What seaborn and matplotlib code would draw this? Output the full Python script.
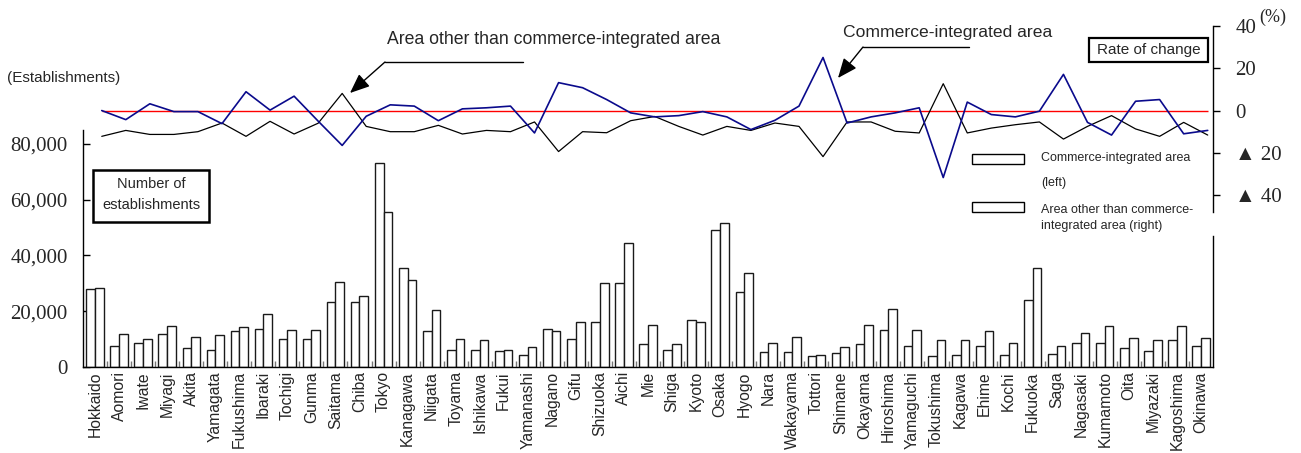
import numpy as np
import pandas as pd
import matplotlib
matplotlib.use("Agg")
import matplotlib.pyplot as plt
import seaborn as sns
from matplotlib.patches import Rectangle
from matplotlib.lines import Line2D

# ---- data -------------------------------------------------------------
prefectures = [
    "Hokkaido", "Aomori", "Iwate", "Miyagi", "Akita", "Yamagata", "Fukushima",
    "Ibaraki", "Tochigi", "Gunma", "Saitama", "Chiba", "Tokyo", "Kanagawa",
    "Niigata", "Toyama", "Ishikawa", "Fukui", "Yamanashi", "Nagano", "Gifu",
    "Shizuoka", "Aichi", "Mie", "Shiga", "Kyoto", "Osaka", "Hyogo", "Nara",
    "Wakayama", "Tottori", "Shimane", "Okayama", "Hiroshima", "Yamaguchi",
    "Tokushima", "Kagawa", "Ehime", "Kochi", "Fukuoka", "Saga", "Nagasaki",
    "Kumamoto", "Oita", "Miyazaki", "Kagoshima", "Okinawa",
]

# number of establishments
est_commerce = [
    27800, 7500, 8600, 11900, 6800, 6200, 12800, 13700, 10000, 10000,
    23300, 23300, 73100, 35500, 12800, 6200, 6200, 5700, 4300, 13700,
    10000, 16100, 30200, 8100, 6200, 17000, 49100, 26900, 5400, 5400,
    3800, 4900, 8100, 13300, 7600, 3800, 4300, 7600, 4300, 24100,
    4800, 8600, 8600, 6700, 5700, 9600, 7600,
]
est_other = [
    28300, 11900, 10000, 14800, 10900, 11500, 14300, 18900, 13300, 13300,
    30600, 25600, 55500, 31200, 20300, 10000, 9600, 6100, 7200, 12800,
    16100, 30200, 44300, 15200, 8100, 16100, 51500, 33600, 8600, 10900,
    4300, 7200, 15200, 20800, 13300, 9600, 9600, 12800, 8600, 35500,
    7600, 12300, 14700, 10500, 9600, 14700, 10500,
]

# rate of change (%)
chg_commerce = [
    0.0, -4.3, 3.2, -0.5, -0.5, -6.2, 8.9, 0.2, 6.8, -5.0,
    -16.5, -2.7, 2.7, 2.1, -4.8, 0.8, 1.3, 2.1, -10.6, 13.2,
    10.8, 5.2, -1.1, -3.0, -2.4, -0.5, -3.0, -9.0, -4.6, 2.1,
    25.1, -5.9, -3.0, -1.1, 1.3, -31.7, 4.0, -1.9, -3.0, -0.3,
    17.1, -5.6, -11.6, 4.4, 5.2, -11.0, -9.4,
]
chg_other = [
    -12.2, -9.4, -11.3, -11.3, -10.0, -5.9, -12.2, -5.1, -11.1, -6.0,
    8.1, -7.5, -10.0, -10.0, -7.0, -11.1, -9.4, -10.0, -5.4, -19.4,
    -10.0, -10.5, -4.8, -2.8, -7.5, -11.6, -7.5, -9.4, -5.9, -7.5,
    -21.8, -5.4, -5.4, -9.8, -10.6, 12.7, -10.6, -8.3, -6.7, -5.4,
    -13.5, -7.5, -2.4, -8.7, -12.2, -5.6, -11.6,
]

left_ticks = [0, 20000, 40000, 60000, 80000]
left_tick_labels = ["0", "20,000", "40,000", "60,000", "80,000"]
right_ticks = [-40, -20, 0, 20, 40]
right_tick_labels = ["▲ 40", "▲ 20", "0", "20", "40"]

series_left = "Commerce-integrated area (left)"
series_right = "Area other than commerce-integrated area (right)"

# ---- style ------------------------------------------------------------
sns.set_style("white")
plt.rcParams["font.family"] = ["Liberation Sans", "DejaVu Sans"]
SERIF = ["Liberation Serif", "DejaVu Sans"]

W, H = 1301, 453
fig = plt.figure(figsize=(W / 100, H / 100), dpi=100)


def fx(x):
    return x / W


def fy(y):
    return 1 - y / H


# ---- bars: number of establishments ------------------------------------
ax = fig.add_axes([fx(83), fy(367), fx(1213) - fx(83), fy(130) - fy(367)])
df = pd.DataFrame({
    "Prefecture": prefectures * 2,
    "Establishments": est_commerce + est_other,
    "Area": [series_left] * len(prefectures) + [series_right] * len(prefectures),
})
sns.barplot(data=df, x="Prefecture", y="Establishments", hue="Area",
            order=prefectures, hue_order=[series_left, series_right],
            palette=["white", "white"], edgecolor="#1a1a1a", linewidth=1.0,
            width=0.72, ax=ax, legend=False)
ax.set_xlim(-0.5, len(prefectures) - 0.5)
ax.set_ylim(0, 85000)
ax.set_xlabel("")
ax.set_ylabel("")
ax.set_yticks(left_ticks)
ax.set_yticklabels(left_tick_labels, fontfamily=SERIF, fontsize=15)
ax.tick_params(axis="y", direction="in", length=5, width=1, color="black",
               pad=11, left=True)
ax.set_xticks(range(len(prefectures)))
ax.set_xticklabels(prefectures, rotation=90, fontsize=11.3)
ax.set_xticks(np.arange(0.5, len(prefectures) - 1, 1), minor=True)
ax.tick_params(axis="x", which="major", length=0, pad=3)
ax.tick_params(axis="x", which="minor", direction="in", length=4.5,
               width=1, color="#777777", bottom=True)
for s in ["left", "bottom", "right"]:
    ax.spines[s].set_visible(True)
    ax.spines[s].set_color("black")
    ax.spines[s].set_linewidth(1.0)
ax.spines["top"].set_visible(False)
ax.spines["right"].set_bounds(0, 46900)

# ---- lines: rate of change ---------------------------------------------
ax2 = fig.add_axes([fx(83), fy(212), fx(1213) - fx(83), fy(26) - fy(212)])
ax2.patch.set_alpha(0)
xpos = np.arange(len(prefectures))
ax2.hlines(0, xpos[0], xpos[-1], color="#ff0000", lw=1.0, zorder=1)
sns.lineplot(x=xpos, y=chg_other, color="black", lw=0.9, ax=ax2, zorder=2)
sns.lineplot(x=xpos, y=chg_commerce, color="#0a0a8c", lw=1.2, ax=ax2, zorder=3)
ax2.set_xlim(-0.78, len(prefectures) - 0.78)
ax2.set_ylim(-48, 40)
ax2.set_xlabel("")
ax2.set_ylabel("")
ax2.xaxis.set_visible(False)
ax2.yaxis.tick_right()
ax2.set_yticks(right_ticks)
ax2.set_yticklabels(right_tick_labels, fontfamily=SERIF, fontsize=15)
for lbl in ax2.get_yticklabels():
    lbl.set_horizontalalignment("left")
ax2.tick_params(axis="y", direction="out", length=5, width=1, color="black",
                pad=11, right=True, left=False)
for s in ["left", "top", "bottom"]:
    ax2.spines[s].set_visible(False)
ax2.spines["right"].set_visible(True)
ax2.spines["right"].set_color("black")
ax2.spines["right"].set_linewidth(1.0)

fig.text(fx(1259), fy(17), "(%)", fontfamily=SERIF, fontsize=13,
         ha="left", va="center")

# ---- unit label and boxed titles ---------------------------------------
fig.text(fx(7), fy(78), "(Establishments)", fontsize=11, ha="left", va="center")

fig.add_artist(Rectangle((fx(93), fy(222)), 116 / W, 52 / H, transform=fig.transFigure,
                         facecolor="white", edgecolor="black", lw=1.8))
fig.text(fx(151), fy(184), "Number of", fontsize=10.5, ha="center", va="center")
fig.text(fx(151), fy(205), "establishments", fontsize=10.5, ha="center", va="center")

fig.add_artist(Rectangle((fx(1089), fy(62)), 119 / W, 24 / H, transform=fig.transFigure,
                         facecolor="white", edgecolor="black", lw=1.6))
fig.text(fx(1148.5), fy(50), "Rate of change", fontsize=11, ha="center", va="center")

# ---- series call-outs --------------------------------------------------
arrow_kw = dict(arrowstyle="-|>,head_length=1.2,head_width=0.5",
                color="black", lw=1.0, mutation_scale=10,
                shrinkA=0, shrinkB=0)

fig.text(fx(387), fy(40), "Area other than commerce-integrated area",
         fontsize=12.7, ha="left", va="center")
fig.add_artist(Line2D([fx(385), fx(523)], [fy(62), fy(62)],
                      transform=fig.transFigure, color="black", lw=1.0))
ax2.annotate("", xy=(350, H - 93), xycoords="figure pixels",
             xytext=(385, H - 62), textcoords="figure pixels", arrowprops=arrow_kw)

fig.text(fx(843), fy(32), "Commerce-integrated area",
         fontsize=12.6, ha="left", va="center")
fig.add_artist(Line2D([fx(863), fx(969)], [fy(47), fy(47)],
                      transform=fig.transFigure, color="black", lw=1.0))
ax2.annotate("", xy=(838, H - 78), xycoords="figure pixels",
             xytext=(863, H - 47), textcoords="figure pixels", arrowprops=arrow_kw)

# ---- legend for the bar pair -------------------------------------------
fig.add_artist(Rectangle((fx(972), fy(164)), 52 / W, 10 / H, transform=fig.transFigure,
                         facecolor="white", edgecolor="black", lw=1.0))
fig.text(fx(1041), fy(158), "Commerce-integrated area", fontsize=9, ha="left", va="center")
fig.text(fx(1041), fy(183), "(left)", fontsize=9, ha="left", va="center")
fig.add_artist(Rectangle((fx(972), fy(212)), 52 / W, 10 / H, transform=fig.transFigure,
                         facecolor="white", edgecolor="black", lw=1.0))
fig.text(fx(1041), fy(210), "Area other than commerce-", fontsize=9, ha="left", va="center")
fig.text(fx(1041), fy(226), "integrated area (right)", fontsize=9, ha="left", va="center")

fig.savefig("out.png", dpi=100)
